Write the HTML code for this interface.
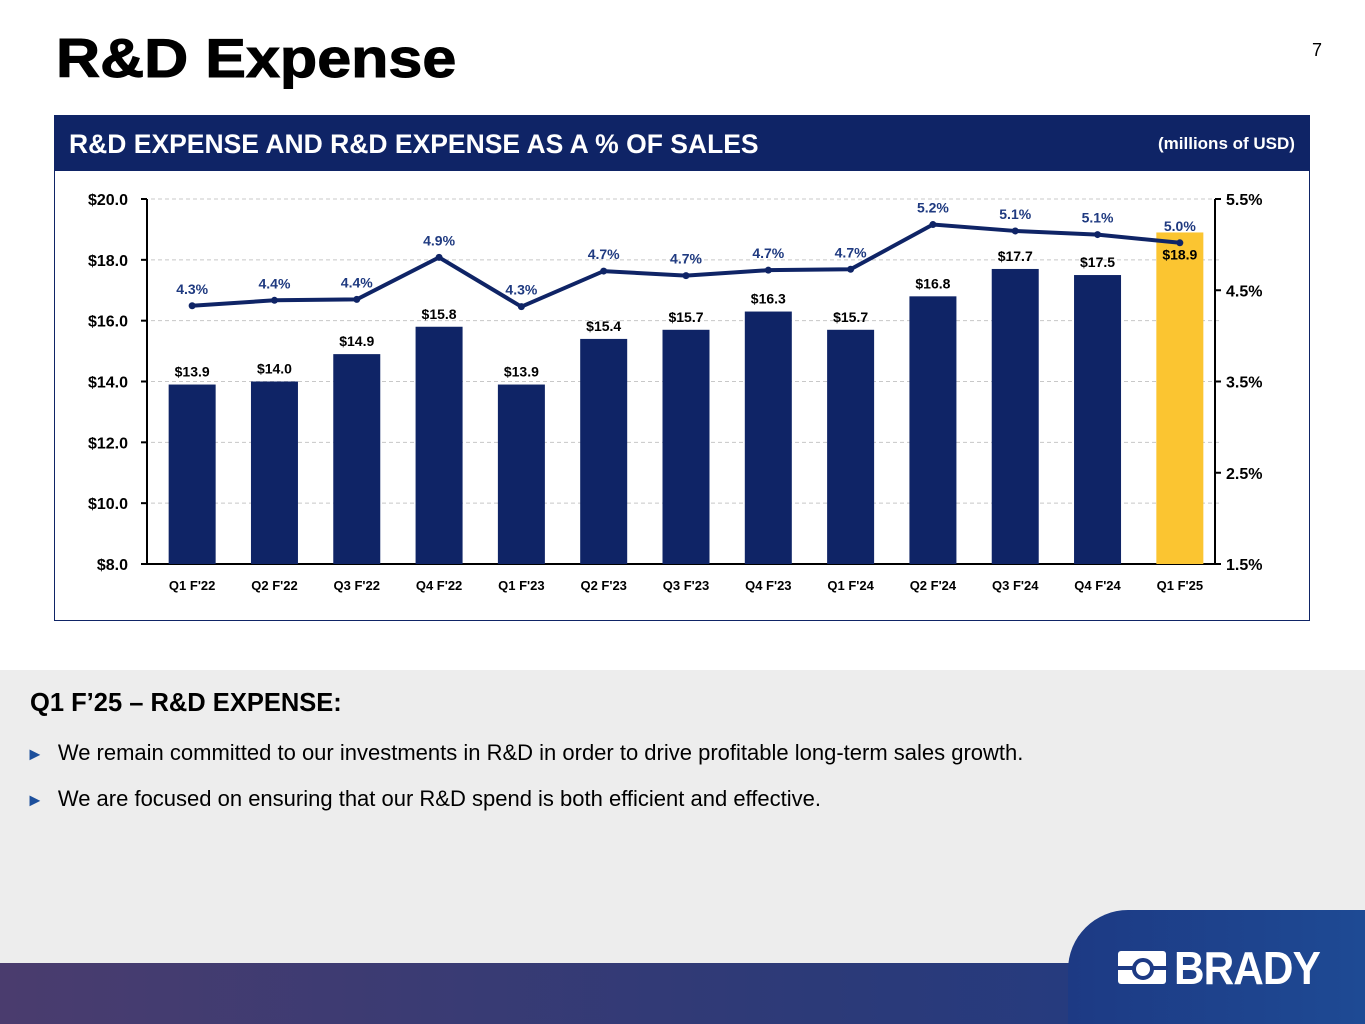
<!DOCTYPE html>
<html><head><meta charset="utf-8">
<style>
body{margin:0;width:1365px;height:1024px;position:relative;overflow:hidden;background:#fff;font-family:"Liberation Sans",Arial,sans-serif}
.abs{position:absolute}
</style></head>
<body>
<div class="abs" style="left:56px;top:26px;font-size:55px;font-weight:bold;color:#000;transform:scaleX(1.11);transform-origin:left;-webkit-text-stroke:1px #000">R&amp;D Expense</div>
<div class="abs" style="left:1312px;top:40px;font-size:18px;color:#000">7</div>

<div class="abs" style="left:54px;top:115px;width:1256px;height:506px;border:1px solid #0f2466;box-sizing:border-box"></div>
<div class="abs" style="left:54px;top:115px;width:1256px;height:56px;background:#0f2466"></div>
<div class="abs" style="left:69px;top:129px;font-size:26.5px;font-weight:bold;color:#fff">R&amp;D EXPENSE AND R&amp;D EXPENSE AS A % OF SALES</div>
<div class="abs" style="left:1158px;top:134px;font-size:17px;font-weight:bold;color:#fff">(millions of USD)</div>

<svg class="abs" style="left:0;top:0" width="1365" height="640" id="chart"></svg>

<div class="abs" style="left:0;top:670px;width:1365px;height:300px;background:#ededed"></div>
<div class="abs" style="left:30px;top:689px;font-size:25.5px;font-weight:bold;color:#000">Q1 F’25 – R&amp;D EXPENSE:</div>
<div class="abs" style="left:26px;top:740px;font-size:22px;color:#000"><span style="color:#1c4f9c;font-size:18px;margin-right:14px">►</span>We remain committed to our investments in R&amp;D in order to drive profitable long-term sales growth.</div>
<div class="abs" style="left:26px;top:786px;font-size:22px;color:#000"><span style="color:#1c4f9c;font-size:18px;margin-right:14px">►</span>We are focused on ensuring that our R&amp;D spend is both efficient and effective.</div>

<div class="abs" style="left:0;top:963px;width:1365px;height:61px;background:linear-gradient(90deg,#4a3c6e,#2c3a78 60%,#1f3c86)"></div>
<div class="abs" style="left:1068px;top:910px;width:297px;height:114px;background:linear-gradient(90deg,#1d3a84,#1e4a94);border-top-left-radius:60px"></div>
<div class="abs" style="left:1118px;top:947px;width:220px;height:44px">
  <div class="abs" style="left:0;top:4px;width:48px;height:33px;background:#fff;border-radius:3px"></div>
  <div class="abs" style="left:-2px;top:19px;width:52px;height:4px;background:#1d3a84"></div>
  <div class="abs" style="left:14px;top:11px;width:14px;height:14px;border:4px solid #1d3a84;border-radius:50%;background:#fff"></div>
  <div class="abs" style="left:56px;top:-6px;font-size:46px;font-weight:bold;color:#fff;letter-spacing:-1px;transform:scaleX(0.92);transform-origin:left">BRADY</div>
</div>

<script>
const categories=["Q1 F'22","Q2 F'22","Q3 F'22","Q4 F'22","Q1 F'23","Q2 F'23","Q3 F'23","Q4 F'23","Q1 F'24","Q2 F'24","Q3 F'24","Q4 F'24","Q1 F'25"];
const expense=[13.9,14.0,14.9,15.8,13.9,15.4,15.7,16.3,15.7,16.8,17.7,17.5,18.9];
const expenseLabels=["$13.9","$14.0","$14.9","$15.8","$13.9","$15.4","$15.7","$16.3","$15.7","$16.8","$17.7","$17.5","$18.9"];
const pct=[4.33,4.39,4.40,4.86,4.32,4.71,4.66,4.72,4.73,5.22,5.15,5.11,5.02];
const pctLabels=["4.3%","4.4%","4.4%","4.9%","4.3%","4.7%","4.7%","4.7%","4.7%","5.2%","5.1%","5.1%","5.0%"];
const leftTicks=[8,10,12,14,16,18,20];
const rightTicks=[1.5,2.5,3.5,4.5,5.5];

const svg=document.getElementById('chart');
const NS='http://www.w3.org/2000/svg';
const X0=151,X1=1221,Y0=564,Y1=199;
const bw=(X1-X0)/categories.length;
const yL=v=>Y0-(v-8)/(20-8)*(Y0-Y1);
const yR=v=>Y0-(v-1.5)/(5.5-1.5)*(Y0-Y1);
const xC=i=>X0+bw*(i+0.5);
function el(t,a,txt){const e=document.createElementNS(NS,t);for(const k in a)e.setAttribute(k,a[k]);if(txt!==undefined)e.textContent=txt;svg.appendChild(e);return e;}
leftTicks.forEach(t=>{
  if(t>8){const g=el('line',{x1:X0,x2:X1,y1:yL(t),y2:yL(t),stroke:'#c8c8c8','stroke-dasharray':'4,3'});
  
  }
  const l=el('text',{x:128,y:yL(t)+6,'text-anchor':'end','font-size':16,'font-weight':'bold',fill:'#000'},'$'+t.toFixed(1));
  
  
  el('line',{x1:141,x2:147,y1:yL(t),y2:yL(t),stroke:'#000','stroke-width':2});
});
rightTicks.forEach(t=>{
  const l=el('text',{x:1226,y:yR(t)+6,'font-size':16,'font-weight':'bold',fill:'#000'},t.toFixed(1)+'%');
  
  
  el('line',{x1:1215,x2:1221,y1:yR(t),y2:yR(t),stroke:'#000','stroke-width':2});
});
el('line',{x1:147,x2:147,y1:Y1,y2:Y0,stroke:'#000','stroke-width':2});
el('line',{x1:1215,x2:1215,y1:Y1,y2:Y0,stroke:'#000','stroke-width':2});
el('line',{x1:141,x2:1221,y1:Y0,y2:Y0,stroke:'#000','stroke-width':2});
categories.forEach((c,i)=>{
  const last=i===categories.length-1;
  const b=el('rect',{x:xC(i)-23.5,y:yL(expense[i]),width:47,height:Y0-yL(expense[i]),fill:last?'#fbc531':'#0f2466'});
  
  
  const ly=last?yL(expense[i])+27:yL(expense[i])-8;
  const v=el('text',{x:xC(i),y:ly,'text-anchor':'middle','font-size':14,'font-weight':'bold',fill:'#000'},expenseLabels[i]);
  
  
  const cl=el('text',{x:xC(i),y:590,'text-anchor':'middle','font-size':13,'font-weight':'bold',fill:'#000'},c);
  
  
});
const pts=pct.map((p,i)=>xC(i)+','+yR(p)).join(' ');
const line=el('polyline',{points:pts,fill:'none',stroke:'#0f2466','stroke-width':4});


pct.forEach((p,i)=>{
  const d=el('circle',{cx:xC(i),cy:yR(p),r:3.5,fill:'#0f2466'});
  
  
  const t=el('text',{x:xC(i),y:yR(p)-12,'text-anchor':'middle','font-size':14,'font-weight':'bold',fill:'#1f3a80'},pctLabels[i]);
  
  
});
</script>
</body></html>
